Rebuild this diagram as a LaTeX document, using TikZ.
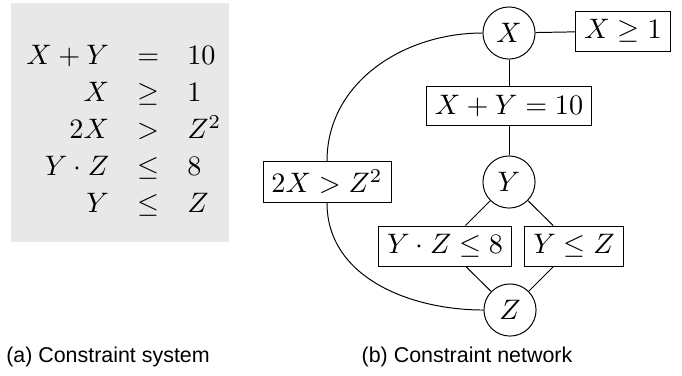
\documentclass[tikz,border=0pt]{standalone}
\usepackage{fontspec}
\usepackage{amsmath, amsfonts}
\newfontfamily\capfont{Liberation Sans}
\usetikzlibrary{positioning}

\begin{document}
\begin{tikzpicture}[x=0.355pt, y=0.355pt, line width=0.35pt,
        main/.style = {draw, circle, minimum size=18.5pt, inner sep=1pt},
        cons/.style = {draw, rectangle, inner sep=3pt},
        caption/.style = {font=\capfont\fontsize{7.6}{9}\selectfont}]
    \useasboundingbox (0,0) rectangle (682,-375);

    % (a) constraint system
    \fill[gray!18] (11,-3) rectangle (229,-242);
    \node[anchor=west, inner sep=0pt] (sys) at (26,-131) {%
        \renewcommand{\arraystretch}{1.1}%
        $\begin{array}{@{}rcl@{}}
            X+Y & = & 10\\
            X & \geq & 1\\
            2X & > & Z^2\\
            Y\cdot Z & \leq & 8\\
            Y & \leq & Z
        \end{array}$};

    % (b) constraint network
    \node[main] (X) at (509,-33) {$X$};
    \node[cons] (c1) at (623,-31) {$X\geq 1$};
    \node[cons] (c2) at (509,-106) {$X+Y=10$};
    \node[main] (Y) at (509,-182) {$Y$};
    \node[cons] (c3) at (327,-182) {$2X>Z^2$};
    \node[cons] (c4) at (445,-246) {$Y\cdot Z\leq 8$};
    \node[cons] (c5) at (574,-246) {$Y\leq Z$};
    \node[main] (Z) at (510,-310) {$Z$};

    \path (X) edge (c1);
    \path (X) edge (c2);
    \path (c2) edge (Y);
    \path (Y) edge (c4);
    \path (Y) edge (c5);
    \path (c4) edge (Z);
    \path (c5) edge (Z);

    \path (X) edge [out=180,in=90] (c3);
    \path (c3) edge [out=-90,in=180] (Z);

    \node[caption] (capa) at (108,-357) {(a) Constraint system};
    \node[caption] (capb) at (467,-357) {(b) Constraint network};
\end{tikzpicture}
\end{document}
